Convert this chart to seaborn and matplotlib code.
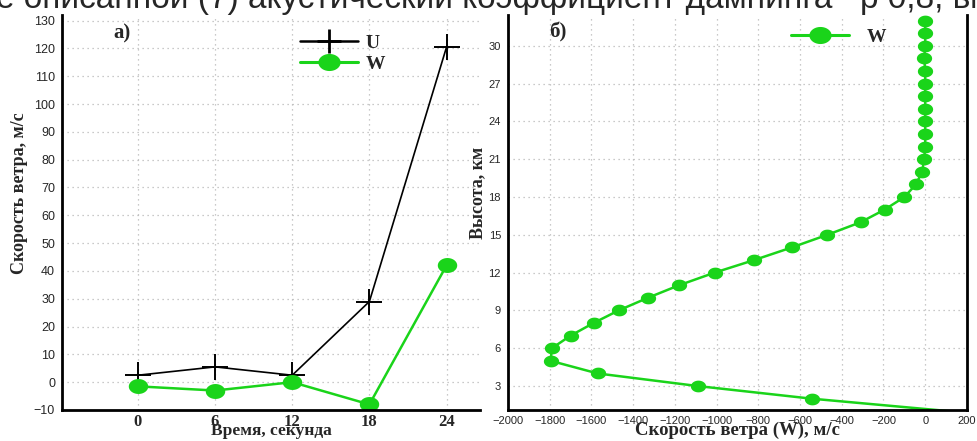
import matplotlib
matplotlib.use("Agg")
import matplotlib.pyplot as plt
from matplotlib.lines import Line2D
import numpy as np
import seaborn as sns

# panel a) - wind speed vs time
time_s = [0, 6, 12, 18, 24]
u_speed = [2.5, 5.5, 2.5, 29, 120.5]
w_speed = [-1.5, -3, 0, -8, 42]

# panel b) - W profile vs height
height_km = list(range(1, 33))
w_profile = [120, -545, -1090, -1570, -1795, -1790, -1700, -1590, -1470, -1330,
             -1180, -1010, -820, -640, -470, -310, -195, -100, -45, -15,
             -5, 0, 0, 0, 0, 0, 0, 0, -5, 0, 0, 0]

top_text_a = "е описанной (7) акустический коэффициент дамнинга"
top_text_b = "р 0,8, вмо"

GREEN = "#1ad41a"
SERIF = "Liberation Serif"
SANS = "Liberation Sans"

sns.set_style("white")
plt.rcParams["font.family"] = [SANS, "DejaVu Sans"]

# slightly wide ellipse marker, like the stretched original
t = np.linspace(0, 2 * np.pi, 40)
ell = np.column_stack([1.3 * np.cos(t), np.sin(t)])

fig = plt.figure(figsize=(9.78, 4.41), dpi=100)
ax1 = fig.add_axes([0.0634, 0.0703, 0.4274, 0.8957])
ax2 = fig.add_axes([0.5194, 0.0703, 0.4693, 0.8957])

fig.text(-0.004, 1 - 8 / 441, top_text_a, fontsize=24, family=SANS,
         va="baseline", ha="left")
fig.text(860 / 978, 1 - 8 / 441, top_text_b, fontsize=24, family=SANS,
         va="baseline", ha="left")


def style_axes(ax):
    ax.grid(True, color="#b8b8b8", linestyle=(0, (1, 3)), linewidth=0.9)
    for s in ["top", "right"]:
        ax.spines[s].set_visible(False)
    for s in ["left", "bottom"]:
        ax.spines[s].set_color("black")
        ax.spines[s].set_linewidth(2)
    ax.tick_params(axis="both", direction="out", length=3, width=1,
                   color="black", pad=2)


# ---- a)
sns.lineplot(x=time_s, y=u_speed, ax=ax1, color="black", lw=1.2,
             marker="+", markersize=19, mew=1.4, mec="black", estimator=None)
sns.lineplot(x=time_s, y=w_speed, ax=ax1, color=GREEN, lw=1.8,
             marker=ell, markersize=14, mew=0, estimator=None)
ax1.set_xlim(-5.9, 26.6)
ax1.set_ylim(-10, 132)
ax1.set_xticks(time_s)
ax1.set_yticks(range(-10, 131, 10))
style_axes(ax1)
ax1.tick_params(axis="x", pad=0)
for lab in ax1.get_xticklabels():
    lab.set_fontproperties({"family": SERIF, "weight": "bold", "size": 12})
for lab in ax1.get_yticklabels():
    lab.set_fontsize(9)
ax1.set_xlabel("Время, секунда", family=SERIF, weight="bold", fontsize=12.5,
               labelpad=-5)
ax1.set_ylabel("Скорость ветра, м/с", family=SERIF, weight="bold", fontsize=13)
ax1.yaxis.set_label_coords(-0.082, 0.55)
ax1.text(0.122, 0.953, "а)", transform=ax1.transAxes, family=SERIF,
         weight="bold", fontsize=15, va="center")
h_u = Line2D([], [], color="black", lw=1.8, marker="+", markersize=17, mew=2)
h_w = Line2D([], [], color=GREEN, lw=2.2, marker=ell, markersize=16, mew=0)
ax1.legend([h_u, h_w], ["U", "W"], loc="upper left",
           bbox_to_anchor=(0.545, 0.975), frameon=False, handlelength=3.0,
           handletextpad=0.4, borderpad=0, labelspacing=0.15,
           prop={"family": SERIF, "weight": "bold", "size": 14})

# ---- b)
sns.lineplot(x=w_profile, y=height_km, ax=ax2, color=GREEN, lw=1.8,
             sort=False, estimator=None, orient="y",
             marker=ell, markersize=11, mew=0, markevery=slice(1, None))
ax2.set_xlim(-2000, 200)
ax2.set_ylim(1.1, 32.45)
ax2.set_xticks(range(-2000, 201, 200))
ax2.set_yticks(range(3, 31, 3))
style_axes(ax2)
ax2.tick_params(axis="x", pad=1)
ax2.spines["right"].set_visible(True)
ax2.spines["right"].set_color("black")
ax2.spines["right"].set_linewidth(2)
for lab in ax2.get_xticklabels() + ax2.get_yticklabels():
    lab.set_fontsize(8)
ax2.set_xlabel("Скорость ветра (W), м/с", family=SERIF, weight="bold",
               fontsize=13.5, labelpad=-3)
ax2.set_ylabel("Высота, км", family=SERIF, weight="bold", fontsize=13)
ax2.yaxis.set_label_coords(-0.048, 0.55)
ax2.text(0.09, 0.955, "б)", transform=ax2.transAxes, family=SERIF,
         weight="bold", fontsize=15, va="center")
h_w2 = Line2D([], [], color=GREEN, lw=2.2, marker=ell, markersize=16, mew=0)
ax2.legend([h_w2], ["W"], loc="upper left", bbox_to_anchor=(0.595, 0.99),
           frameon=False, handlelength=3.0, handletextpad=0.9, borderpad=0,
           prop={"family": SERIF, "weight": "bold", "size": 14})

fig.savefig("out.png", dpi=100)
